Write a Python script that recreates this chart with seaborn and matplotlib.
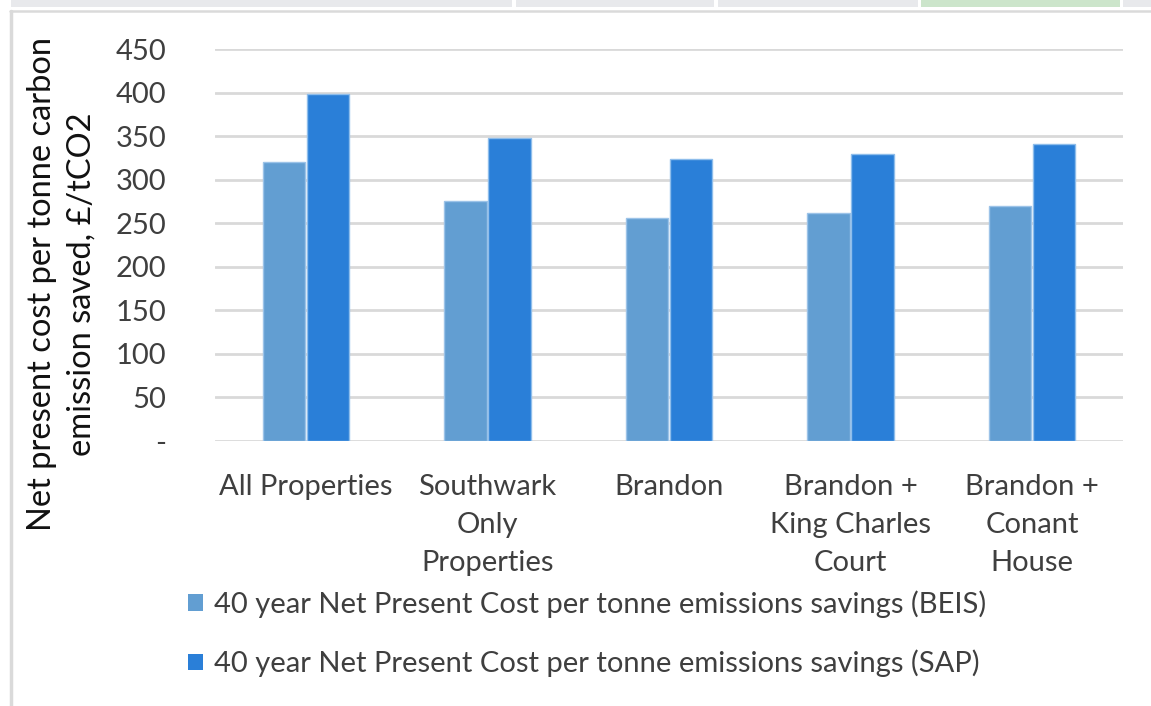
import matplotlib
matplotlib.use("Agg")
import matplotlib.pyplot as plt
from matplotlib.patches import Rectangle
from matplotlib.lines import Line2D
import seaborn as sns
import pandas as pd

# Scenario groups and net present cost per tonne of carbon saved (£/tCO2)
categories = ["All Properties", "Southwark\nOnly\nProperties", "Brandon",
              "Brandon +\nKing Charles\nCourt", "Brandon +\nConant\nHouse"]
beis_values = [320, 276, 256, 262, 270]
sap_values = [398, 348, 324, 330, 341]
series_names = ["40 year Net Present Cost per tonne emissions savings (BEIS)",
                "40 year Net Present Cost per tonne emissions savings (SAP)"]
y_ticks = [0, 50, 100, 150, 200, 250, 300, 350, 400, 450]
y_tick_labels = ["-", "50", "100", "150", "200", "250", "300", "350", "400", "450"]
y_label = "Net present cost per tonne carbon\nemission saved, £/tCO2"

colors = ["#629ED2", "#2A7FD8"]
edge_colors = ["#9CC3E8", "#8EBDEB"]

df = pd.DataFrame({
    "category": categories * 2,
    "value": beis_values + sap_values,
    "series": [series_names[0]] * len(categories) + [series_names[1]] * len(categories),
})

sns.set_theme(style="white")
plt.rcParams["font.family"] = ["Lato", "DejaVu Sans"]
FS = 21
TXT = "#3F3F3F"

fig = plt.figure(figsize=(11.51, 7.06), dpi=100)
ax = fig.add_axes([215 / 1151, 1 - 441 / 706, (1123 - 215) / 1151, (441 - 49) / 706])

sns.barplot(data=df, x="category", y="value", hue="series", order=categories,
            hue_order=series_names, palette=colors, width=0.485, gap=0.04,
            saturation=1, ax=ax, legend=False, zorder=3)

for i, container in enumerate(ax.containers):
    for bar in container:
        bar.set_edgecolor(edge_colors[i])
        bar.set_linewidth(1.0)

ax.set_ylim(0, 450)
ax.set_xlim(-0.5, len(categories) - 0.5)
ax.set_yticks(y_ticks)
ax.set_yticklabels(y_tick_labels, fontsize=FS, color=TXT)
ax.yaxis.grid(True, color="#D9D9D9", linewidth=2.0, zorder=0)
ax.xaxis.grid(False)
ax.set_axisbelow(True)
for s in ax.spines.values():
    s.set_visible(False)
ax.tick_params(axis="y", length=0, pad=35)
ax.tick_params(axis="x", length=0, pad=24)
ax.set_xticks(range(len(categories)))
ax.set_xticklabels(categories, fontsize=FS, color=TXT, linespacing=1.56)
ax.set_xlabel("")
ax.set_ylabel("")

fig.text(62 / 1151, 1 - 284 / 706, y_label, rotation=90, ha="center", va="center",
         fontsize=FS + 2.5, color="#111111", multialignment="center", linespacing=1.38)

handles = [Rectangle((0, 0), 1, 1, facecolor=c, edgecolor="none") for c in colors]
fig.legend(handles, series_names, loc="upper left", bbox_to_anchor=(188 / 1151, 1 - 590 / 706),
           frameon=False, fontsize=FS, labelcolor=TXT, handlelength=0.5, handleheight=0.5,
           handletextpad=0.4, labelspacing=1.1, borderaxespad=0, borderpad=0)

# sheet frame and header strip
fig.add_artist(Line2D([10.5 / 1151, 10.5 / 1151], [0, 1 - 11 / 706], color="#DADADA",
                      linewidth=2.5, transform=fig.transFigure))
fig.add_artist(Line2D([10 / 1151, 1], [1 - 11 / 706, 1 - 11 / 706], color="#DADADA",
                      linewidth=1.8, transform=fig.transFigure))
for x0, x1, c in [(11, 512, "#E8E9EC"), (516, 714, "#E8E9EC"), (718, 918, "#E8E9EC"),
                  (921, 1120, "#CCE5CB"), (1123, 1151, "#E8E9EC")]:
    fig.add_artist(Rectangle((x0 / 1151, 1 - 7 / 706), (x1 - x0) / 1151, 7 / 706,
                             facecolor=c, edgecolor="none", transform=fig.transFigure))

fig.savefig("out.png", dpi=100)
